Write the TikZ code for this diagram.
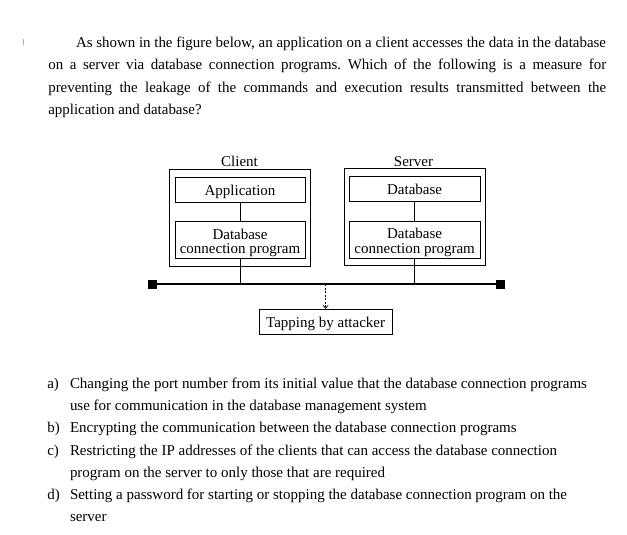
\documentclass[tikz,border=0pt]{standalone}
\usepackage{fontspec}
\setmainfont{Liberation Serif}
\usetikzlibrary{arrows.meta}
\newsavebox\measurebox
\frenchspacing
\begin{document}
\frenchspacing
\sbox\measurebox{\fontsize{15}{18}\selectfont As shown in the figure below, an application on a client accesses the data in the database}%
\pgfmathsetmacro\sxa{530/\the\wd\measurebox}%
\pgfmathsetlengthmacro\wjust{558/\sxa}%
\sbox\measurebox{\fontsize{15}{18}\selectfont Changing the port number from its initial value that the database connection programs}%
\pgfmathsetmacro\sxb{517/\the\wd\measurebox}%
\begin{tikzpicture}[x=1pt,y=-1pt,
  txt/.style={inner sep=0pt, outer sep=0pt, anchor=base west, font=\fontsize{15}{18}\selectfont},
  lbl/.style={inner sep=0pt, anchor=base, font=\fontsize{15}{18}\selectfont},
  box/.style={draw, line width=0.8pt, inner sep=0pt, align=center, font=\fontsize{15}{14.5}\selectfont},
  onebox/.style={box, text height=11.5pt, text depth=0pt},
  twobox/.style={box, text height=0pt, text depth=2pt},
  outerbox/.style={draw, line width=0.8pt, inner sep=0pt},
  link/.style={line width=0.8pt},
  bus/.style={line width=1.1pt},
  sq/.style={fill=black, inner sep=0pt, minimum size=9pt},
  tapline/.style={line width=0.7pt, dash pattern=on 2pt off 1.5pt, -{Straight Barb[length=3pt,width=5pt]}}
]
\useasboundingbox (0,0) rectangle (627,535);
\fill[white] (0,0) rectangle (627,535);

\draw[orange!70!yellow, line width=1pt] (23.3,39) -- (23.3,45);

% question
\node[txt] (q1) at (76,48) {\scalebox{\sxa}[1]{As shown in the figure below, an application on a client accesses the data in the database}};
\node[txt] (q2) at (48.3,70) {\scalebox{\sxa}[1]{\makebox[\wjust][s]{on a server via database connection programs. Which of the following is a measure for}}};
\node[txt] (q3) at (48.3,92.5) {\scalebox{\sxa}[1]{\makebox[\wjust][s]{preventing the leakage of the commands and execution results transmitted between the}}};
\node[txt] (q4) at (48.3,114) {\scalebox{\sxa}[1]{application and database?}};

% diagram
\node[lbl] (clientlbl) at (239.5,166) {Client};
\node[lbl] (serverlbl) at (413.5,166) {Server};
\node[outerbox, minimum width=141.4pt, minimum height=97.4pt] (client) at (240,218) {};
\node[outerbox, minimum width=141pt, minimum height=97.4pt] (server) at (414.5,217) {};
\node[onebox, minimum width=130pt, minimum height=25pt] (app) at (240,189.8) {Application};
\node[twobox, minimum width=130pt, minimum height=36.6pt] (cdb) at (240,240) {\begin{tabular}[t]{@{}c@{}}Database\\connection program\end{tabular}};
\node[onebox, minimum width=130.7pt, minimum height=24.3pt] (db) at (414.65,188.85) {Database};
\node[twobox, minimum width=130.7pt, minimum height=37.3pt] (sdb) at (414.65,239.65) {\begin{tabular}[t]{@{}c@{}}Database\\connection program\end{tabular}};
\node[sq] (sqL) at (152,284) {};
\node[sq] (sqR) at (500.5,284) {};
\node[onebox, minimum width=133.3pt, minimum height=24.7pt] (tap) at (325.65,321.65) {Tapping by attacker};
\coordinate (tapsrc) at (325.65,284);

\draw[bus] (sqL) -- (sqR);
\draw[link] (app) -- (cdb);
\draw[link] (db) -- (sdb);
\draw[link] (cdb.south) -- (cdb.south |- sqL);
\draw[link] (sdb.south) -- (sdb.south |- sqR);
\draw[tapline] (tapsrc) -- (tap.north);

% options
\node[txt] (la) at (47.3,388) {\scalebox{\sxb}[1]{a)}};
\node[txt] (a1) at (70,388) {\scalebox{\sxb}[1]{Changing the port number from its initial value that the database connection programs}};
\node[txt] (a2) at (70,410) {\scalebox{\sxb}[1]{use for communication in the database management system}};
\node[txt] (lb) at (47.3,432.7) {\scalebox{\sxb}[1]{b)}};
\node[txt] (b1) at (70,432.7) {\scalebox{\sxb}[1]{Encrypting the communication between the database connection programs}};
\node[txt] (lc) at (47.3,455) {\scalebox{\sxb}[1]{c)}};
\node[txt] (c1) at (70,455) {\scalebox{\sxb}[1]{Restricting the IP addresses of the clients that can access the database connection}};
\node[txt] (c2) at (70,477.3) {\scalebox{\sxb}[1]{program on the server to only those that are required}};
\node[txt] (ld) at (47.3,499.3) {\scalebox{\sxb}[1]{d)}};
\node[txt] (d1) at (70,499.3) {\scalebox{\sxb}[1]{Setting a password for starting or stopping the database connection program on the}};
\node[txt] (d2) at (70,521) {\scalebox{\sxb}[1]{server}};
\end{tikzpicture}
\end{document}
